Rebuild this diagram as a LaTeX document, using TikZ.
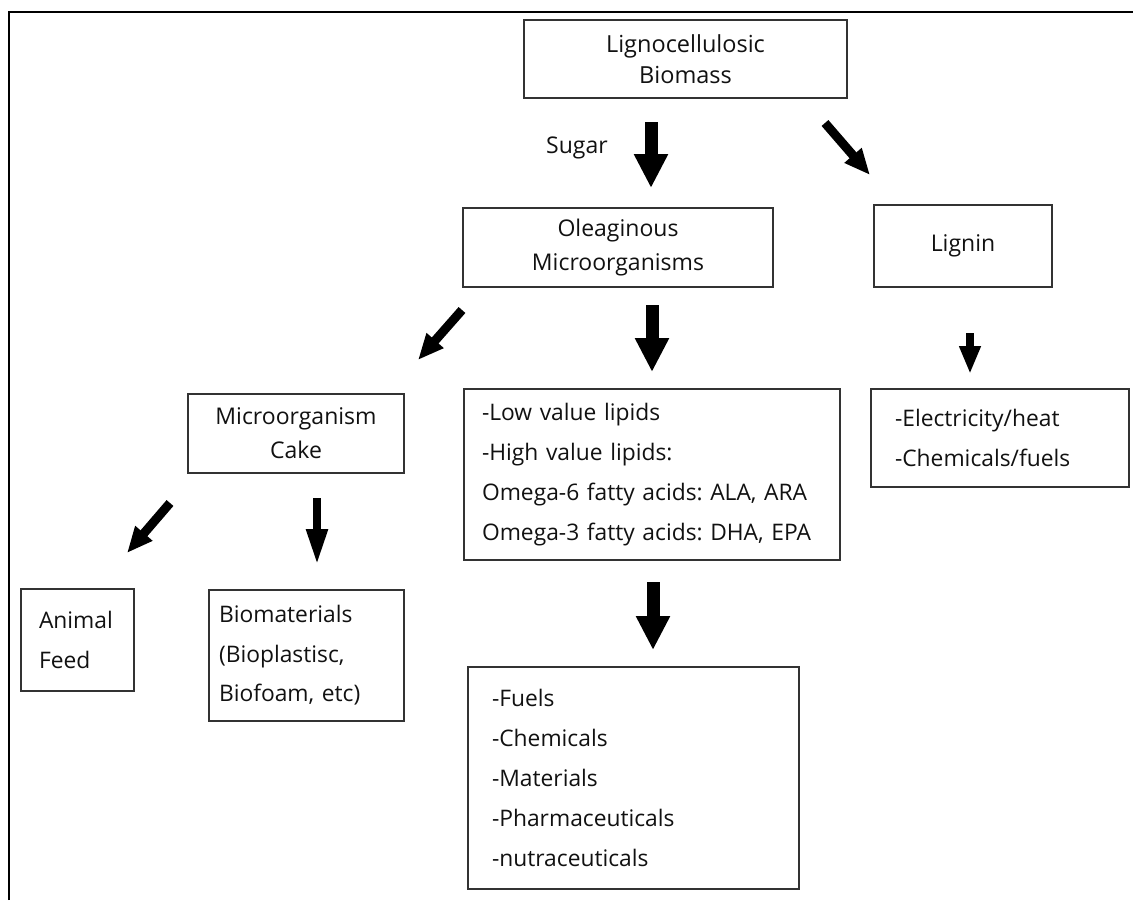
\documentclass[tikz,border=0pt]{standalone}
\usepackage{fontspec}
\setmainfont{Open Sans}
\usetikzlibrary{arrows.meta}
\definecolor{txt}{HTML}{111111}
\definecolor{edge}{HTML}{333333}
\tikzset{
  box/.style={draw=edge, line width=1.5pt, inner sep=0pt, text=txt, font=\fontsize{23}{34}\selectfont},
  cbox/.style={box, align=center},
  lbox/.style={box, align=left, font=\fontsize{22.8}{40}\selectfont},
  bigarrow/.style={line width=13pt, -{Triangle[width=32pt,length=34pt]}},
  diagarrow/.style={line width=9pt, -{Triangle[width=21pt,length=26pt]}},
  thinarrow/.style={line width=8pt, -{Triangle[width=20pt,length=36pt]}},
  shortarrow/.style={line width=8pt, -{Triangle[width=20pt,length=28pt]}},
  lab/.style={text=txt, font=\fontsize{23}{34}\selectfont, inner sep=0pt}
}
\begin{document}
\frenchspacing
\begin{tikzpicture}[x=1pt, y=-1pt]
\useasboundingbox (0,0) rectangle (1133,900);
% outer frame (left and top)
\draw[line width=2pt, black] (9,900) -- (9,12) -- (1133,12);

% boxes
\node[cbox, minimum width=323pt, minimum height=78pt, font=\fontsize{23.5}{31}\selectfont] (lig) at (685.5,59) {Lignocellulosic\\Biomass};
\node[cbox, minimum width=310pt, minimum height=79pt] (ole) at (618,247.5) {Oleaginous\\Microorganisms};
\node[cbox, minimum width=178pt, minimum height=82pt] (lignin) at (963,246) {Lignin};
\node[cbox, minimum width=216pt, minimum height=79pt] (cake) at (296,433.5) {Microorganism\\Cake};
\node[lbox, text width=340pt, inner xsep=18pt, minimum height=171pt] (lip) at (652,474.5)
  {-Low value lipids\\-High value lipids:\\Omega-6 fatty acids: ALA, ARA\\Omega-3 fatty acids: DHA, EPA};
\node[lbox, text width=210pt, inner xsep=24pt, minimum height=98pt] (elec) at (1000,438)
  {-Electricity/heat\\-Chemicals/fuels};
\node[lbox, text width=77pt, inner xsep=18pt, minimum height=102pt] (feed) at (77.5,640)
  {Animal\\Feed};
\node[lbox, text width=175pt, inner xsep=10pt, minimum height=131pt, font=\fontsize{22.8}{39.5}\selectfont] (biom) at (306.5,655.5)
  {Biomaterials\\(Bioplastisc,\\Biofoam, etc)};
\node[lbox, text width=283pt, inner xsep=24pt, minimum height=222pt] (prod) at (633.5,778)
  {-Fuels\\-Chemicals\\-Materials\\-Pharmaceuticals\\-nutraceuticals};

% label
\node[lab] (sugar) at (577,148) {Sugar};

% arrow end points
\coordinate (a1s) at (651,122);  \coordinate (a1e) at (651,188);
\coordinate (a2s) at (825,123);  \coordinate (a2e) at (870,175);
\coordinate (a3s) at (652,305);  \coordinate (a3e) at (652,372);
\coordinate (a4s) at (462,310);  \coordinate (a4e) at (418,360);
\coordinate (a5s) at (970,333);  \coordinate (a5e) at (970,374);
\coordinate (a6s) at (170,503);  \coordinate (a6e) at (127,553);
\coordinate (a7s) at (317,498);  \coordinate (a7e) at (317,565);
\coordinate (a8s) at (653,582);  \coordinate (a8e) at (653,650);

\draw[bigarrow] (a1s) -- (a1e);
\draw[diagarrow] (a2s) -- (a2e);
\draw[bigarrow] (a3s) -- (a3e);
\draw[diagarrow] (a4s) -- (a4e);
\draw[shortarrow] (a5s) -- (a5e);
\draw[diagarrow] (a6s) -- (a6e);
\draw[thinarrow] (a7s) -- (a7e);
\draw[bigarrow] (a8s) -- (a8e);
\end{tikzpicture}
\end{document}
